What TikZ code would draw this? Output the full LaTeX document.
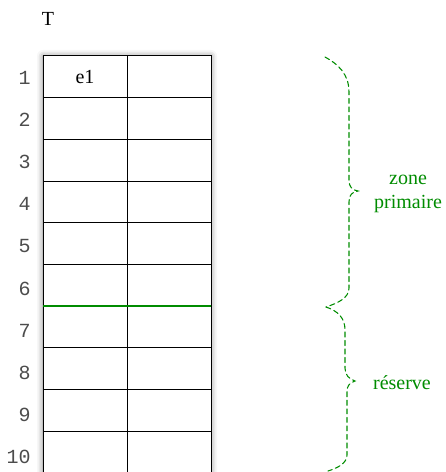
\documentclass[tikz,border=0pt]{standalone}
\usepackage{fontspec}
\setmainfont{Liberation Serif}
\setmonofont{Liberation Mono}
\usetikzlibrary{positioning,shadows.blur,backgrounds}

\definecolor{vert}{RGB}{0,140,0}

\begin{document}
\begin{tikzpicture}[x=0.75pt,y=-0.75pt,font=\fontsize{15}{18}\selectfont,
cell/.style={draw,line width=0.75pt,minimum width=63pt,minimum height=31.3pt,inner sep=0pt,outer sep=0pt},
num/.style={font=\fontsize{15}{18}\selectfont\ttfamily,text=black!70,inner sep=0pt,anchor=east},
vtext/.style={text=vert,align=center},
accolade/.style={vert,line width=0.8pt,dash pattern=on 3.8pt off 2.6pt,line cap=round}]
\useasboundingbox (0,0) rectangle (446,472);
\node (titre) at (48,19) {T};
% the table, one row per index
\foreach \i in {1,...,10} {
  \node[cell] (g\i) at (85,{56+41.7*(\i-0.5)}) {};
  \node[cell,right=0pt of g\i] (d\i) {};
  \node[num] (n\i) at (31,{77.5+42.2*(\i-1)}) {\i};
}
\node at (g1) (e1) {e1};
\begin{scope}[on background layer]
\fill[white,blur shadow={shadow xshift=0pt,shadow yshift=0pt,shadow blur radius=4.5pt,shadow opacity=50}]
  (g1.north west) rectangle (d10.south east);
\end{scope}
% limit between primary zone and reserve
\draw[vert,line width=1.5pt] (g6.south west) -- (d6.south east);
% braces
\draw[accolade] (325,57) .. controls (338,64) and (349,74) .. (349,92) -- (349,180)
  .. controls (349,187) and (352,190) .. (358,191) .. controls (352,192) and (349,195) .. (349,202)
  -- (349,288) .. controls (349,298) and (338,303) .. (326,307);
\draw[accolade] (326,307) .. controls (338,311) and (345,318) .. (345,330) -- (345,368)
  .. controls (345,375) and (349,379) .. (355,381) .. controls (349,383) and (347,386) .. (347,392)
  -- (347,455) .. controls (347,463) and (338,468) .. (328,471);
\node[vtext] (zone) at (408,194) {zone\\primaire};
\node[vtext] (reserve) at (402,383) {réserve};
\end{tikzpicture}
\end{document}
